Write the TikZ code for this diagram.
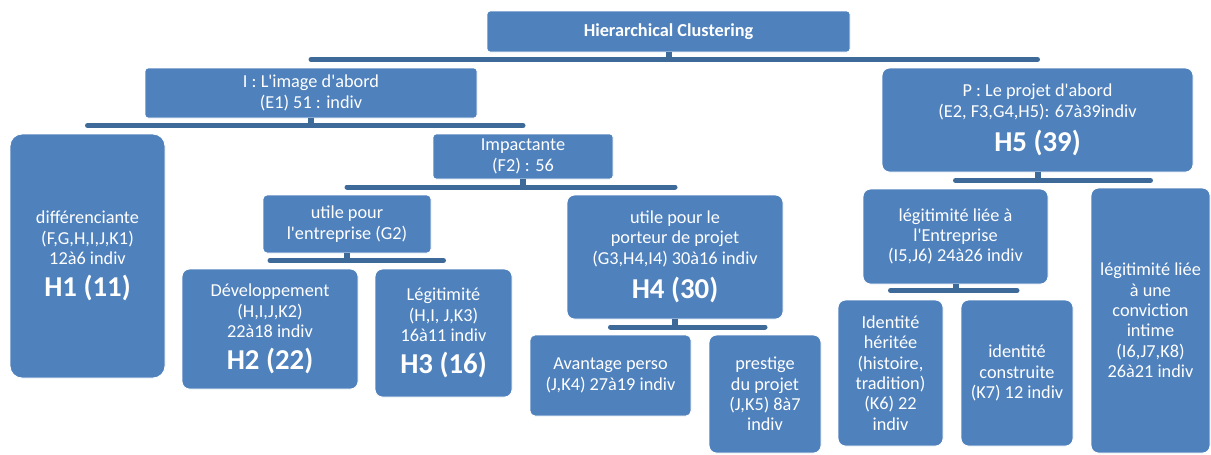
\documentclass[tikz,border=0pt]{standalone}
\usepackage{fontspec}
\setmainfont{Carlito}
\usepackage{xcolor}
\usepackage{tikz}

\definecolor{boxblue}{HTML}{4F81BD}
\definecolor{barblue}{HTML}{3E6A9A}
\newcommand{\hbig}[1]{{\fontsize{16.4}{19}\selectfont\bfseries #1}}
\newcommand{\sq}{\textquotesingle}

\begin{document}
\begin{tikzpicture}[x=0.02cm, y=-0.02cm,
  box/.style={fill=boxblue, draw=white, line width=0.5pt, text=white, align=center, inner sep=0pt, rounded corners=0.15cm, font=\fontsize{10.4}{11.6}\selectfont},
  flat/.style={box, rounded corners=0.06cm},
  wh/.style 2 args={minimum width=#1*0.02cm, minimum height=#2*0.02cm},
  bar/.style={draw=barblue, line width=0.1cm, line cap=round},
  stub/.style={draw=barblue, line width=0.12cm}]
\useasboundingbox (0,0) rectangle (1211,454);

\node[flat, wh={363}{41}] (root) at (668.5,31.5) {\textbf{Hierarchical Clustering}};
\node[flat, wh={332}{50}] (img) at (311,93) {I : L\sq image d\sq abord\\(E1) 51 : indiv};
\node[box, wh={311}{104}] (proj) at (1037.5,120) {P : Le projet d\sq abord\\(E2, F3,G4,H5): 67à39indiv\\[5pt]\hbig{H5 (39)}};
\node[box, wh={155}{244}, rounded corners=0.24cm] (h1) at (87.5,256) {différenciante\\(F,G,H,I,J,K1)\\12à6 indiv\\[5pt]\hbig{H1 (11)}};
\node[flat, wh={180}{45}] (impact) at (523,156.5) {Impactante\\(F2) : 56};
\node[flat, wh={168}{58}, rounded corners=0.08cm] (g2) at (347,224) {utile pour\\l\sq entreprise (G2)};
\node[box, wh={216}{124}] (h4) at (675,257) {utile pour le\\porteur de projet\\(G3,H4,I4) 30à16 indiv\\[5pt]\hbig{H4 (30)}};
\node[box, wh={176}{120}] (h2) at (270,329) {Développement\\(H,I,J,K2)\\22à18 indiv\\[5pt]\hbig{H2 (22)}};
\node[box, wh={137}{128}] (h3) at (443.5,333) {Légitimité\\(H,I, J,K3)\\16à11 indiv\\[5pt]\hbig{H3 (16)}};
\node[box, wh={161}{81}, rounded corners=0.1cm] (avant) at (610.5,375.5) {Avantage perso\\(J,K4) 27à19 indiv};
\node[box, wh={112}{118}] (prest) at (765,394) {prestige\\du projet\\(J,K5) 8à7\\indiv};
\node[box, wh={185}{95}] (entr) at (955.5,236.5) {légitimité liée à\\l\sq Entreprise\\(I5,J6) 24à26 indiv};
\node[box, wh={119}{265}] (conv) at (1150.5,320.5) {légitimité liée\\à une\\conviction\\intime\\(I6,J7,K8)\\26à21 indiv};
\node[box, wh={105}{146}] (herit) at (890.5,373) {Identité\\héritée\\(histoire,\\tradition)\\(K6) 22\\indiv};
\node[box, wh={112}{146}] (constr) at (1017,373) {identité\\construite\\(K7) 12 indiv};

\coordinate (j0) at (668.5,59.5);
\coordinate (j1) at (311,125.5);
\coordinate (j2) at (523,187);
\coordinate (j3) at (347,260.5);
\coordinate (j4) at (675,327);
\coordinate (j5) at (1037.5,180.5);
\coordinate (j6) at (955.5,290.5);
\foreach \p/\a/\b/\j in {root/img/proj/j0, img/h1/impact/j1, impact/g2/h4/j2, g2/h2/h3/j3,
    h4/avant/prest/j4, proj/entr/conv/j5, entr/herit/constr/j6} {
  \draw[stub] (\p.south) -- (\j);
  \draw[bar] (\j -| \a) -- (\j -| \b);
}
\end{tikzpicture}
\end{document}
